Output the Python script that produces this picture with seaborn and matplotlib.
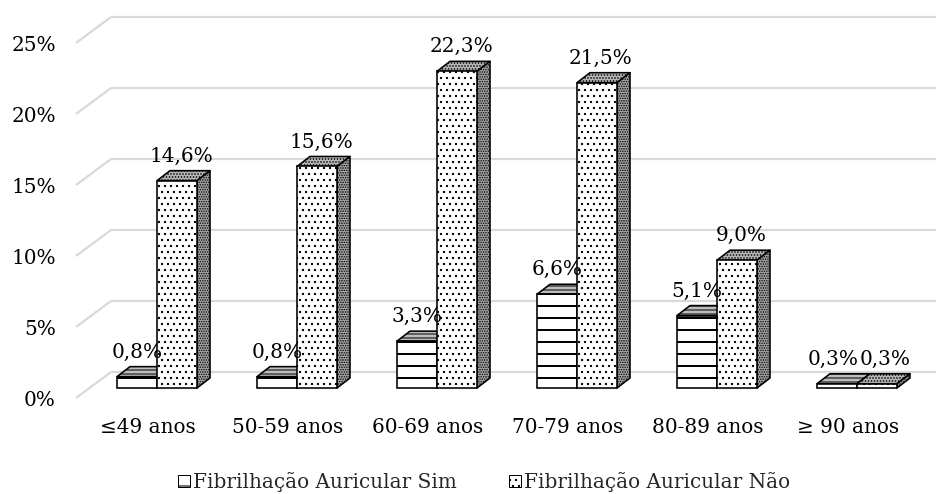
import matplotlib
matplotlib.use("Agg")
import matplotlib.pyplot as plt
from matplotlib.patches import Polygon, Patch
import pandas as pd
import seaborn as sns

# ---- data -----------------------------------------------------------------
categorias = ["≤49 anos", "50-59 anos", "60-69 anos", "70-79 anos", "80-89 anos", "≥ 90 anos"]
series = ["Fibrilhação Auricular Sim", "Fibrilhação Auricular Não"]
fa_sim = [0.8, 0.8, 3.3, 6.6, 5.1, 0.3]
fa_nao = [14.6, 15.6, 22.3, 21.5, 9.0, 0.3]
ticks_y = [0, 5, 10, 15, 20, 25]

# ---- style ----------------------------------------------------------------
sns.set_theme(style="white")
plt.rcParams["font.family"] = ["DejaVu Serif"]
plt.rcParams["hatch.linewidth"] = 1.1

W, H, DPI = 936, 494, 72
FS = 20

fig = plt.figure(figsize=(W / DPI, H / DPI), dpi=DPI)
ax = fig.add_axes([0, 0, 1, 1])

# pixel geometry of the pseudo-3D plot
X0, STEP = 157, 140      # centre of first category (front plane), spacing
Y0, PPU = 388, 14.2      # baseline (px from top), px per percentage point
DEPTH_X, DEPTH_Y = 13, 10  # bar depth
BACK_X, BACK_Y = 111, 16   # back wall: left x, rise above bar baseline
FRONT_X, FRONT_Y = 76, 10  # front floor edge: left x, drop below baseline


def px2x(px):
    return (px - X0) / STEP


def py2y(py):
    return (Y0 - py) / PPU


df = pd.DataFrame({
    "idade": categorias * 2,
    "grupo": [series[0]] * len(categorias) + [series[1]] * len(categorias),
    "valor": fa_sim + fa_nao,
})

sns.barplot(data=df, x="idade", y="valor", hue="grupo", order=categorias,
            hue_order=series, width=80 / STEP, palette=["white", "white"],
            saturation=1, edgecolor="black", linewidth=1.6, legend=False,
            errorbar=None, ax=ax)

ax.set_xlim(px2x(0), px2x(W))
ax.set_ylim(py2y(H), py2y(0))
ax.axis("off")

dx, dy = DEPTH_X / STEP, DEPTH_Y / PPU

styles = [
    # front hatch, top colour, top hatch, side colour, side hatch
    ("-", "#bdbdbd", "---", "#a0a0a0", "---"),
    ("..", "#b5b5b5", "....", "#a3a3a3", "....."),
]
z_base = [1.0, 1.4]

for k, cont in enumerate(ax.containers):
    fh, tc, th, sc, sh = styles[k]
    for p in cont.patches:
        p.set_hatch(fh)
        p.set_zorder(z_base[k] + 0.2)
        if k == 0 and hasattr(p, "set_hatch_linewidth"):
            p.set_hatch_linewidth(2.0)
        x0, w, h = p.get_x(), p.get_width(), p.get_height()
        top = Polygon([(x0, h), (x0 + w, h), (x0 + w + dx, h + dy), (x0 + dx, h + dy)],
                      closed=True, facecolor=tc, edgecolor="black", hatch=th,
                      linewidth=1.6, zorder=z_base[k], joinstyle="round")
        side = Polygon([(x0 + w, 0), (x0 + w + dx, dy), (x0 + w + dx, h + dy), (x0 + w, h)],
                       closed=True, facecolor=sc, edgecolor="black", hatch=sh,
                       linewidth=1.6, zorder=z_base[k], joinstyle="round")
        for poly in (top, side):
            if hasattr(poly, "set_hatch_linewidth"):
                poly.set_hatch_linewidth(1.0)
            ax.add_patch(poly)

# back wall gridlines, floor diagonals and the percentage scale
grid_c = "#d9d9d9"
for v in ticks_y:
    yb = v + BACK_Y / PPU
    yf = v - FRONT_Y / PPU
    ax.plot([px2x(BACK_X), px2x(W)], [yb, yb], color=grid_c, lw=2.2, zorder=0.5,
            solid_capstyle="butt")
    ax.plot([px2x(FRONT_X), px2x(BACK_X)], [yf, yb], color=grid_c, lw=2.2, zorder=0.5,
            solid_capstyle="butt")
    ax.text(px2x(56), yf - 8 / PPU, f"{v}%", ha="right", va="baseline",
            fontsize=FS, color="black")

# category labels
for i, cat in enumerate(categorias):
    ax.text(i - 9 / STEP, py2y(433), cat, ha="center", va="baseline",
            fontsize=FS, color="black")

# value labels; labels of equal-height neighbours are pushed apart
sim_bars, nao_bars = ax.containers[0].patches, ax.containers[1].patches
for ps, pn, vs, vn in zip(sim_bars, nao_bars, fa_sim, fa_nao):
    xs = ps.get_x() + ps.get_width() / 2
    xn = pn.get_x() + pn.get_width() / 2 + 4 / STEP
    if abs(vs - vn) < 1.5:
        xs -= 4 / STEP
        xn += 4 / STEP
    for xc, v in ((xs, vs), (xn, vn)):
        ax.text(xc, v + 19 / PPU, f"{v:.1f}".replace(".", ",") + "%",
                ha="center", va="baseline", fontsize=FS, color="black", zorder=5)

# legend
handles = [
    Patch(facecolor="white", edgecolor="black", hatch="-", linewidth=1.0),
    Patch(facecolor="white", edgecolor="black", hatch="..", linewidth=1.0),
]
fig.legend(handles, series, loc="center", bbox_to_anchor=(484 / W, 1 - 482 / H),
           ncol=2, frameon=False, fontsize=20, handlelength=0.6, handleheight=0.6,
           handletextpad=0.15, columnspacing=2.6, borderpad=0.0)

fig.savefig("out.png", dpi=DPI)
